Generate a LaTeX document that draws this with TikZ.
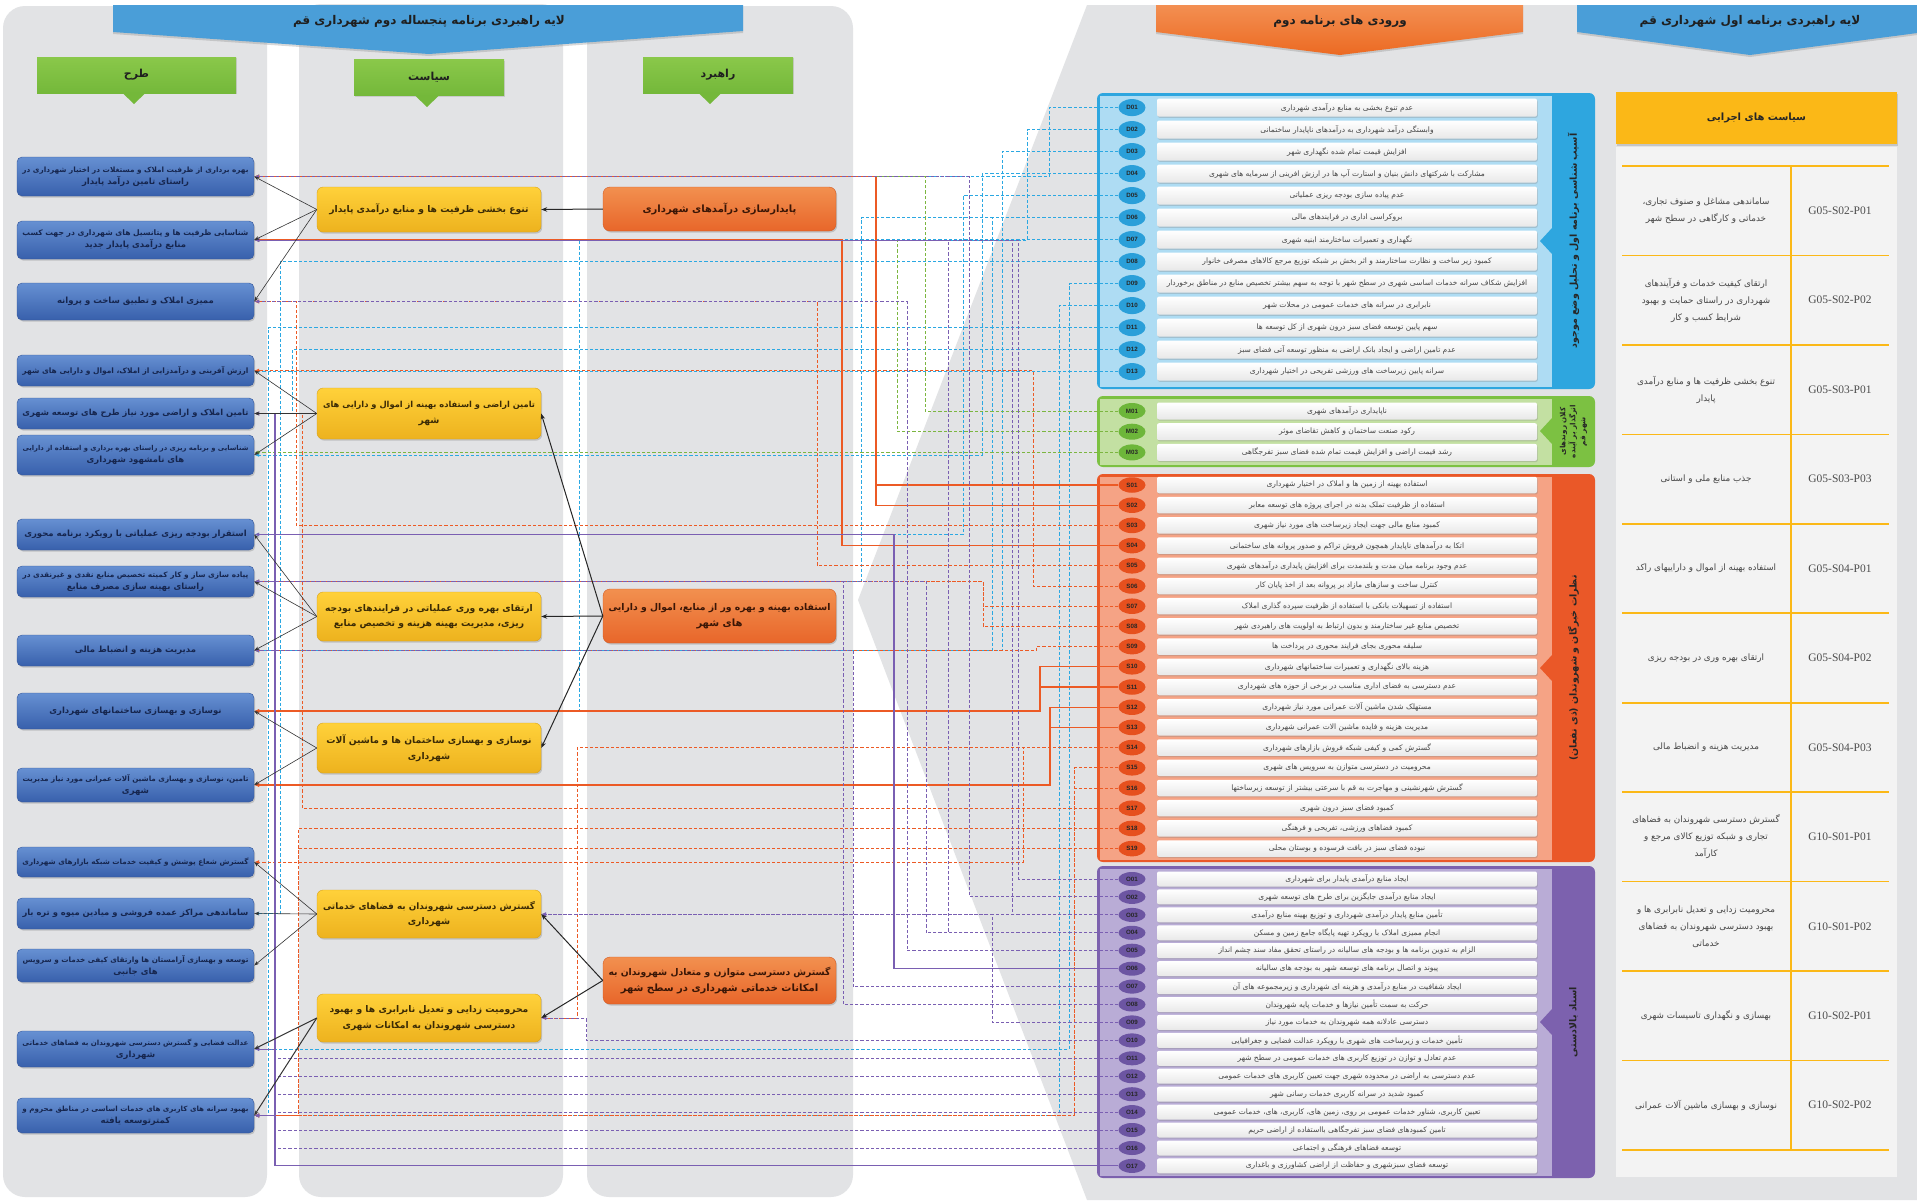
\documentclass[tikz,border=0pt]{standalone}
\usepackage{fontspec}
\usepackage{graphicx}
\setmainfont{Liberation Sans}
\newfontfamily\arabicfont[Script=Arabic]{DejaVu Sans}
\newfontfamily\codefont{Liberation Serif}
\TeXXeTstate=1
\usetikzlibrary{arrows.meta,shadows,shapes.geometric}
\pgfdeclarelayer{bg}
\pgfdeclarelayer{lines}
\pgfsetlayers{bg,lines,main}
\definecolor{colbg}{HTML}{E2E3E5}
\definecolor{bnB}{HTML}{4A9ED8}
\definecolor{bnO1}{HTML}{F38F52}
\definecolor{bnO2}{HTML}{EC6A22}
\definecolor{gL1}{HTML}{8AC84A}
\definecolor{gL2}{HTML}{74B83A}
\definecolor{tB1}{HTML}{6690D2}
\definecolor{tB2}{HTML}{3860AC}
\definecolor{tB3}{HTML}{34569A}
\definecolor{tTx}{HTML}{16264F}
\definecolor{pB1}{HTML}{FFD13A}
\definecolor{pB2}{HTML}{EDB21E}
\definecolor{pB3}{HTML}{D9A21A}
\definecolor{pTx}{HTML}{3A2A05}
\definecolor{rB1}{HTML}{F2904F}
\definecolor{rB2}{HTML}{E8662A}
\definecolor{rB3}{HTML}{D35A22}
\definecolor{rTx}{HTML}{3A1606}
\definecolor{dS}{HTML}{2EA6DF}
\definecolor{dI}{HTML}{AEDCF3}
\definecolor{dB}{HTML}{2A9FD9}
\definecolor{mS}{HTML}{7CC142}
\definecolor{mI}{HTML}{C3E0A2}
\definecolor{mB}{HTML}{6DB63A}
\definecolor{sS}{HTML}{EA5828}
\definecolor{sI}{HTML}{F5A385}
\definecolor{sB}{HTML}{E6501E}
\definecolor{oS}{HTML}{7C61AE}
\definecolor{oI}{HTML}{B9ACD6}
\definecolor{oB}{HTML}{6C55A2}
\definecolor{lD}{HTML}{2BA8E2}
\definecolor{lM}{HTML}{7CB640}
\definecolor{lS}{HTML}{EC5A25}
\definecolor{lO}{HTML}{7A5FB2}
\definecolor{yl}{HTML}{FBB817}
\definecolor{tbg}{HTML}{F3F3F3}
\newsavebox\fbx
\newcommand\fa[2]{\sbox\fbx{\arabicfont #2}\ifdim\wd\fbx>#1\relax\resizebox{#1}{!}{\usebox\fbx}\else\usebox\fbx\fi}
\newcommand\panel[5]{%
 \fill[#3,rounded corners=6pt] (1097,#1) rectangle (1595,#2);
 \fill[#4] (1100,{#1+2.5}) rectangle (1552,{#2-2.5});
 \fill[#3] (1552,{#5-13}) -- (1540,#5) -- (1552,{#5+13}) -- cycle;}
\newcommand\lrow[5]{\node[badge=#3,minimum height={#4-1pt}] (#1) at (1132,#2) {#1};
 \node[rowbar,minimum height=#4] (b#1) at (1347,#2) {\fa{372pt}{#5}};}
\newcommand\tnode[4]{\node[tbox,minimum height=#3] (#1) at (135.5,#2) {#4};}
\newcommand\cn[4]{\coordinate (ln) at (#3,0);\draw[#1] (#2.west) -- (#2.west -| ln) |- (#4.east);}
\newcommand\cdr[3]{\draw[#1] (#2.west) -- (#2.west -| #3.east);}
\tikzset{
 shd/.style={drop shadow={shadow xshift=1.2pt,shadow yshift=-1.6pt,opacity=.35}},
 tbox/.style={rounded corners=5pt,top color=tB1,bottom color=tB2,draw=tB3,line width=.4pt,minimum width=237pt,align=center,text=tTx,font=\bfseries\fontsize{8.5}{12}\selectfont,inner sep=1.5pt,shd},
 pbox/.style={rounded corners=6pt,top color=pB1,bottom color=pB2,draw=pB3,line width=.4pt,minimum width=224pt,align=center,text=pTx,font=\bfseries\fontsize{9.2}{15.5}\selectfont,inner sep=1.5pt,shd},
 rbox/.style={rounded corners=7pt,top color=rB1,bottom color=rB2,draw=rB3,line width=.4pt,minimum width=233pt,align=center,text=rTx,font=\bfseries\fontsize{10}{16.5}\selectfont,inner sep=1.5pt,shd},
 badge/.style={ellipse,fill=#1,minimum width=27pt,inner sep=0pt,font=\bfseries\fontsize{6.2}{7}\selectfont,text=black!85},
 rowbar/.style={rectangle,rounded corners=2pt,top color=white,bottom color=black!9,minimum width=380pt,inner sep=0pt,text=black!72,font=\fontsize{7.5}{8}\selectfont,drop shadow={shadow xshift=.8pt,shadow yshift=-1.2pt,opacity=.3}},
 striptext/.style={rotate=90,align=center,text=black!85,font=\bfseries\fontsize{9.5}{11}\selectfont},
 hdr/.style={align=center,text=black!88,font=\bfseries\fontsize{12}{14}\selectfont},
 glabel/.style={top color=gL1,bottom color=gL2,minimum width=150pt,minimum height=36pt,text=black!88,font=\bfseries\fontsize{11}{13}\selectfont,drop shadow={shadow xshift=1pt,shadow yshift=-1.2pt,opacity=.25}},
 tabtxt/.style={align=center,text=black!72,font=\fontsize{8.8}{17}\selectfont},
 codest/.style={text=black!70,font=\codefont\fontsize{11.5}{12}\selectfont},
 cD/.style={draw=lD,line width=1pt,dash pattern=on 3.2pt off 2pt,-{Latex[length=5pt,width=4pt]}},
 cM/.style={draw=lM,line width=1pt,dash pattern=on 3.2pt off 2pt,-{Latex[length=5pt,width=4pt]}},
 cS/.style={draw=lS,line width=1pt,dash pattern=on 3.2pt off 2pt,-{Latex[length=5pt,width=4pt]}},
 cSs/.style={draw=lS,line width=1.1pt,solid,-{Latex[length=5pt,width=4pt]}},
 cO/.style={draw=lO,line width=1pt,dash pattern=on 3.2pt off 2pt,-{Latex[length=5pt,width=4pt]}},
 cOs/.style={draw=lO,line width=1.1pt,solid,-{Latex[length=5pt,width=4pt]}},
 blk/.style={draw=black!80,line width=.6pt,-{Stealth[length=5pt,width=3.6pt]}},
 blkR/.style={draw=black!85,line width=1pt,-{Stealth[length=6pt,width=4.5pt]}},
}
\begin{document}
\begin{tikzpicture}[x=1pt,y=-1pt]
\useasboundingbox (0,0) rectangle (1917,1200);
\begin{pgfonlayer}{bg}
 \fill[white] (0,0) rectangle (1917,1200);
 \fill[colbg] (1087,5) -- (1917,5) -- (1917,1200) -- (1087,1200) -- (858,600) -- cycle;
 \fill[colbg,rounded corners=22pt] (3,6) rectangle (267,1197);
 \fill[colbg,rounded corners=22pt] (299,4) rectangle (563,1197);
 \fill[colbg,rounded corners=22pt] (587,6) rectangle (853,1197);
 \panel{93}{389}{dS}{dI}{241}
 \panel{396}{467}{mS}{mI}{431}
 \panel{474}{862}{sS}{sI}{668}
 \panel{866}{1178}{oS}{oI}{1022}
 \fill[tbg] (1616,147) rectangle (1897,1177);
\end{pgfonlayer}

% ---------- banners ----------
\path[fill=bnB,drop shadow={shadow xshift=0pt,shadow yshift=-2pt,opacity=.3}] (113,5) -- (743,5) -- (743,31) -- (429,54) -- (113,32) -- cycle;
\node[hdr] (hL) at (429,21) {\fa{300pt}{\beginR لایه راهبردی برنامه پنجساله دوم شهرداری قم\endR}};
\path[top color=bnO1,bottom color=bnO2,drop shadow={shadow xshift=0pt,shadow yshift=-2pt,opacity=.3}] (1156,5) -- (1523,5) -- (1523,32) -- (1340,55) -- (1156,32) -- cycle;
\node[hdr] (hO) at (1340,21) {\fa{200pt}{\beginR ورودی های برنامه دوم\endR}};
\path[fill=bnB,drop shadow={shadow xshift=0pt,shadow yshift=-2pt,opacity=.3}] (1577,5) -- (1925,5) -- (1925,32) -- (1750,55) -- (1577,32) -- cycle;
\node[hdr] (hR) at (1750,21) {\fa{260pt}{\beginR لایه راهبردی برنامه اول شهرداری قم\endR}};

\node[glabel,minimum width=199pt] (gT) at (136.5,75) {\fa{80pt}{\beginR طرح\endR}};
\fill[gL2] (122,92.5) -- (134,104) -- (146,92.5) -- cycle;
\node[glabel] (gP) at (429,77.5) {\fa{80pt}{\beginR سیاست\endR}};
\fill[gL2] (415,95.5) -- (427,107) -- (439,95.5) -- cycle;
\node[glabel] (gR) at (718,75) {\fa{80pt}{\beginR راهبرد\endR}};
\fill[gL2] (698,92.5) -- (710,104) -- (722,92.5) -- cycle;

% ---------- strategy (orange) ----------
\node[rbox,minimum height=44pt] (R1) at (719.5,209) {\fa{222pt}{\beginR پایدارسازی درآمدهای شهرداری\endR}};
\node[rbox,minimum height=54pt] (R2) at (719.5,616) {\fa{222pt}{\beginR استفاده بهینه و بهره ور از منابع، اموال و دارایی\endR}\\\fa{222pt}{\beginR های شهر\endR}};
\node[rbox,minimum height=47pt] (R3) at (719.5,980.5) {\fa{222pt}{\beginR گسترش دسترسی متوازن و متعادل شهروندان به\endR}\\\fa{222pt}{\beginR امکانات خدماتی شهرداری در سطح شهر\endR}};

% ---------- policy (yellow) ----------
\node[pbox,minimum height=45pt] (P1) at (429,209.5) {\fa{212pt}{\beginR تنوع بخشی ظرفیت ها و منابع درآمدی پایدار\endR}};
\node[pbox,minimum height=51pt] (P2) at (429,413.5) {\fa{212pt}{\beginR تامین اراضی و استفاده بهینه از اموال و دارایی های\endR}\\\fa{212pt}{\beginR شهر\endR}};
\node[pbox,minimum height=49pt] (P3) at (429,616.5) {\fa{212pt}{\beginR ارتقای بهره وری عملیاتی در فرایندهای بودجه\endR}\\\fa{212pt}{\beginR ریزی، مدیریت بهینه هزینه و تخصیص منابع\endR}};
\node[pbox,minimum height=50pt] (P4) at (429,748) {\fa{212pt}{\beginR نوسازی و بهسازی ساختمان ها و ماشین آلات\endR}\\\fa{212pt}{\beginR شهرداری\endR}};
\node[pbox,minimum height=48pt] (P5) at (429,914) {\fa{212pt}{\beginR گسترش دسترسی شهروندان به فضاهای خدماتی\endR}\\\fa{212pt}{\beginR شهرداری\endR}};
\node[pbox,minimum height=48pt] (P6) at (429,1018) {\fa{212pt}{\beginR محرومیت زدایی و تعدیل نابرابری ها و بهبود\endR}\\\fa{212pt}{\beginR دسترسی شهروندان به امکانات شهری\endR}};

% ---------- plans (blue) ----------
\tnode{T1}{176.5}{39pt}{\fa{226pt}{\beginR بهره برداری از ظرفیت املاک و مستغلات در اختیار شهرداری در\endR}\\\fa{226pt}{\beginR راستای تامین درآمد پایدار\endR}}
\tnode{T2}{240}{38pt}{\fa{226pt}{\beginR شناسایی ظرفیت ها و پتانسیل های شهرداری در جهت کسب\endR}\\\fa{226pt}{\beginR منابع درآمدی پایدار جدید\endR}}
\tnode{T3}{301.5}{37pt}{\fa{226pt}{\beginR ممیزی املاک و تطبیق ساخت و پروانه\endR}}
\tnode{T4}{370.5}{31pt}{\fa{226pt}{\beginR ارزش آفرینی و درآمدزایی از املاک، اموال و دارایی های شهر\endR}}
\tnode{T5}{413.5}{31pt}{\fa{226pt}{\beginR تامین املاک و اراضی مورد نیاز طرح های توسعه شهری\endR}}
\tnode{T6}{455}{40pt}{\fa{226pt}{\beginR شناسایی و برنامه ریزی در راستای بهره برداری و استفاده از دارایی\endR}\\\fa{226pt}{\beginR های نامشهود شهرداری\endR}}
\tnode{T7}{534.5}{31pt}{\fa{226pt}{\beginR استقرار بودجه ریزی عملیاتی با رویکرد برنامه محوری\endR}}
\tnode{T8}{581.5}{31pt}{\fa{226pt}{\beginR پیاده سازی ساز و کار کمیته تخصیص منابع نقدی و غیرنقدی در\endR}\\\fa{226pt}{\beginR راستای بهینه سازی مصرف منابع\endR}}
\tnode{T9}{650.5}{31pt}{\fa{226pt}{\beginR مدیریت هزینه و انضباط مالی\endR}}
\tnode{T10}{711}{36pt}{\fa{226pt}{\beginR نوسازی و بهسازی ساختمانهای شهرداری\endR}}
\tnode{T11}{785}{34pt}{\fa{226pt}{\beginR تامین، نوسازی و بهسازی ماشین آلات عمرانی مورد نیاز مدیریت\endR}\\\fa{226pt}{\beginR شهری\endR}}
\tnode{T12}{862}{30pt}{\fa{226pt}{\beginR گسترش شعاع پوشش و کیفیت خدمات شبکه بازارهای شهرداری\endR}}
\tnode{T13}{913.5}{31pt}{\fa{226pt}{\beginR ساماندهی مراکز عمده فروشی و میادین میوه و تره بار\endR}}
\tnode{T14}{965.5}{33pt}{\fa{226pt}{\beginR توسعه و بهسازی آرامستان ها وارتقای کیفی خدمات و سرویس\endR}\\\fa{226pt}{\beginR های جانبی\endR}}
\tnode{T15}{1049}{36pt}{\fa{226pt}{\beginR عدالت فضایی و گسترش دسترسی شهروندان به فضاهای خدماتی\endR}\\\fa{226pt}{\beginR شهرداری\endR}}
\tnode{T16}{1115.5}{35pt}{\fa{226pt}{\beginR بهبود سرانه های کاربری های خدمات اساسی در مناطق محروم و\endR}\\\fa{226pt}{\beginR کمترتوسعه یافته\endR}}

% ---------- input lists ----------
\node[striptext] (sD) at (1573.5,241) {\fa{280pt}{\beginR آسیب شناسی برنامه اول و تحلیل وضع موجود\endR}};
\node[striptext,font=\bfseries\fontsize{7.2}{10}\selectfont] (sM) at (1573.5,431.5) {\fa{66pt}{\beginR کلان روندهای\endR}\\\fa{66pt}{\beginR اثرگذار بر آینده\endR}\\\fa{66pt}{\beginR شهر قم\endR}};
\node[striptext] (sS) at (1573.5,668) {\fa{370pt}{\beginR نظرات خبرگان و شهروندان (ذی نفعان)\endR}};
\node[striptext] (sO) at (1573.5,1022) {\fa{290pt}{\beginR اسناد بالادستی\endR}};

\lrow{D01}{107.6}{dB}{18pt}{\beginR عدم تنوع بخشی به منابع درآمدی شهرداری\endR}
\lrow{D02}{129.6}{dB}{18pt}{\beginR وابستگی درآمد شهرداری به درآمدهای ناپایدار ساختمانی\endR}
\lrow{D03}{151.6}{dB}{18pt}{\beginR افزایش قیمت تمام شده نگهداری شهر\endR}
\lrow{D04}{173.6}{dB}{18pt}{\beginR مشارکت با شرکتهای دانش بنیان و استارت آپ ها در ارزش افرینی از سرمایه های شهری\endR}
\lrow{D05}{195.6}{dB}{18pt}{\beginR عدم پیاده سازی بودجه ریزی عملیاتی\endR}
\lrow{D06}{217.6}{dB}{18pt}{\beginR بروکراسی اداری در فرایندهای مالی\endR}
\lrow{D07}{239.6}{dB}{18pt}{\beginR نگهداری و تعمیرات ساختارمند ابنیه شهری\endR}
\lrow{D08}{261.6}{dB}{18pt}{\beginR کمبود زیر ساخت و نظارت ساختارمند و اثر بخش بر شبکه توزیع مرجع کالاهای مصرفی خانوار\endR}
\lrow{D09}{283.6}{dB}{18pt}{\beginR افزایش شکاف سرانه خدمات اساسی شهری در سطح شهر با توجه به سهم بیشتر تخصیص منابع در مناطق برخوردار\endR}
\lrow{D10}{305.6}{dB}{18pt}{\beginR نابرابری در سرانه های خدمات عمومی در محلات شهر\endR}
\lrow{D11}{327.6}{dB}{18pt}{\beginR سهم پایین توسعه فضای سبز درون شهری از کل توسعه ها\endR}
\lrow{D12}{349.6}{dB}{18pt}{\beginR عدم تامین اراضی و ایجاد بانک اراضی به منظور توسعه آتی فضای سبز\endR}
\lrow{D13}{371.6}{dB}{18pt}{\beginR سرانه پایین زیرساخت های ورزشی تفریحی در اختیار شهرداری\endR}

\lrow{M01}{411}{mB}{17pt}{\beginR ناپایداری درآمدهای شهری\endR}
\lrow{M02}{431.7}{mB}{17pt}{\beginR رکود صنعت ساختمان و کاهش تقاضای موثر\endR}
\lrow{M03}{452.4}{mB}{17pt}{\beginR رشد قیمت اراضی و افزایش قیمت تمام شده فضای سبز تفرجگاهی\endR}

\lrow{S01}{485}{sB}{16.5pt}{\beginR استفاده بهینه از زمین ها و املاک در اختیار شهرداری\endR}
\lrow{S02}{505.2}{sB}{16.5pt}{\beginR استفاده از ظرفیت تملک بدنه در اجرای پروژه های توسعه معابر\endR}
\lrow{S03}{525.4}{sB}{16.5pt}{\beginR کمبود منابع مالی جهت ایجاد زیرساخت های مورد نیاز شهری\endR}
\lrow{S04}{545.6}{sB}{16.5pt}{\beginR اتکا به درآمدهای ناپایدار همچون فروش تراکم و صدور پروانه های ساختمانی\endR}
\lrow{S05}{565.8}{sB}{16.5pt}{\beginR عدم وجود برنامه میان مدت و بلندمدت برای افزایش پایداری درآمدهای شهری\endR}
\lrow{S06}{586}{sB}{16.5pt}{\beginR کنترل ساخت و سازهای مازاد بر پروانه بعد از اخذ پایان کار\endR}
\lrow{S07}{606.2}{sB}{16.5pt}{\beginR استفاده از تسهیلات بانکی با استفاده از ظرفیت سپرده گذاری املاک\endR}
\lrow{S08}{626.4}{sB}{16.5pt}{\beginR تخصیص منابع غیر ساختارمند و بدون ارتباط به اولویت های راهبردی شهر\endR}
\lrow{S09}{646.6}{sB}{16.5pt}{\beginR سلیقه محوری بجای فرایند محوری در پرداخت ها\endR}
\lrow{S10}{666.8}{sB}{16.5pt}{\beginR هزینه بالای نگهداری و تعمیرات ساختمانهای شهرداری\endR}
\lrow{S11}{687}{sB}{16.5pt}{\beginR عدم دسترسی به فضای اداری مناسب در برخی از حوزه های شهرداری\endR}
\lrow{S12}{707.2}{sB}{16.5pt}{\beginR مستهلک شدن ماشین آلات عمرانی مورد نیاز شهرداری\endR}
\lrow{S13}{727.4}{sB}{16.5pt}{\beginR مدیریت هزینه و فایده ماشین الات عمرانی شهرداری\endR}
\lrow{S14}{747.6}{sB}{16.5pt}{\beginR گسترش کمی و کیفی شبکه فروش بازارهای شهرداری\endR}
\lrow{S15}{767.8}{sB}{16.5pt}{\beginR محرومیت در دسترسی متوازن به سرویس های شهری\endR}
\lrow{S16}{788}{sB}{16.5pt}{\beginR گسترش شهرنشینی و مهاجرت به قم با سرعتی بیشتر از توسعه زیرساختها\endR}
\lrow{S17}{808.2}{sB}{16.5pt}{\beginR کمبود فضای سبز درون شهری\endR}
\lrow{S18}{828.4}{sB}{16.5pt}{\beginR کمبود فضاهای ورزشی، تفریحی و فرهنگی\endR}
\lrow{S19}{848.6}{sB}{16.5pt}{\beginR نبوده فضای سبز در بافت فرسوده و بوستان محلی\endR}

\lrow{O01}{879}{oB}{15pt}{\beginR ایجاد منابع درآمدی پایدار برای شهرداری\endR}
\lrow{O02}{896.9}{oB}{15pt}{\beginR ایجاد منابع درآمدی جایگزین برای طرح های توسعه شهری\endR}
\lrow{O03}{914.9}{oB}{15pt}{\beginR تأمین منابع پایدار درآمدی شهرداری و توزیع بهینه منابع درآمدی\endR}
\lrow{O04}{932.8}{oB}{15pt}{\beginR انجام ممیزی املاک با رویکرد تهیه پایگاه جامع زمین و مسکن\endR}
\lrow{O05}{950.7}{oB}{15pt}{\beginR الزام به تدوین برنامه ها و بودجه های سالیانه در راستای تحقق مفاد سند چشم انداز\endR}
\lrow{O06}{968.7}{oB}{15pt}{\beginR پیوند و اتصال برنامه های توسعه شهر به بودجه های سالیانه\endR}
\lrow{O07}{986.6}{oB}{15pt}{\beginR ایجاد شفافیت در منابع درآمدی و هزینه ای شهرداری و زیرمجموعه های آن\endR}
\lrow{O08}{1004.5}{oB}{15pt}{\beginR حرکت به سمت تأمین نیازها و خدمات پایه شهروندان\endR}
\lrow{O09}{1022.4}{oB}{15pt}{\beginR دسترسی عادلانه همه شهروندان به خدمات مورد نیاز\endR}
\lrow{O10}{1040.4}{oB}{15pt}{\beginR تأمین خدمات و زیرساخت های شهری با رویکرد عدالت فضایی و جغرافیایی\endR}
\lrow{O11}{1058.3}{oB}{15pt}{\beginR عدم تعادل و توازن در توزیع کاربری های خدمات عمومی در سطح شهر\endR}
\lrow{O12}{1076.2}{oB}{15pt}{\beginR عدم دسترسی به اراضی در محدوده شهری جهت تعیین کاربری های خدمات عمومی\endR}
\lrow{O13}{1094.2}{oB}{15pt}{\beginR کمبود شدید در سرانه کاربری خدمات رسانی شهر\endR}
\lrow{O14}{1112.1}{oB}{15pt}{\beginR تعیین کاربری، شناور خدمات عمومی بر روی، زمین های، کاربری، های، خدمات عمومی\endR}
\lrow{O15}{1130}{oB}{15pt}{\beginR تامین کمبودهای فضای سبز تفرجگاهی بااستفاده از اراضی حریم\endR}
\lrow{O16}{1148}{oB}{15pt}{\beginR توسعه فضاهای فرهنگی و اجتماعی\endR}
\lrow{O17}{1165.9}{oB}{15pt}{\beginR توسعه فضای سبزشهری و حفاظت از اراضی کشاورزی و باغداری\endR}

% ---------- executive policies table ----------
\node[fill=yl,minimum width=281pt,minimum height=52pt,font=\bfseries\fontsize{10}{12}\selectfont,text=black!85,drop shadow={shadow xshift=1pt,shadow yshift=-1.5pt,opacity=.3}] (yH) at (1756.5,118) {\fa{200pt}{\beginR سیاست های اجرایی\endR}};
\foreach \k in {0,...,11} \draw[yl,line width=1.6pt] (1622,{166+89.45*\k}) -- (1889,{166+89.45*\k});
\draw[yl,line width=2.4pt] (1791,166) -- (1791,1150);
\node[tabtxt] (g1) at (1706,210.7) {\fa{160pt}{\beginR ساماندهی مشاغل و صنوف تجاری،\endR}\\\fa{160pt}{\beginR خدماتی و کارگاهی در سطح شهر\endR}};
\node[tabtxt] (g2) at (1706,300.2) {\fa{160pt}{\beginR ارتقای کیفیت خدمات و فرآیندهای\endR}\\\fa{160pt}{\beginR شهرداری در راستای حمایت و بهبود\endR}\\\fa{160pt}{\beginR شرایط کسب و کار\endR}};
\node[tabtxt] (g3) at (1706,389.6) {\fa{160pt}{\beginR تنوع بخشی ظرفیت ها و منابع درآمدی\endR}\\\fa{160pt}{\beginR پایدار\endR}};
\node[tabtxt] (g4) at (1706,479.1) {\fa{160pt}{\beginR جذب منابع ملی و استانی\endR}};
\node[tabtxt] (g5) at (1706,568.5) {\fa{160pt}{\beginR استفاده بهینه از اموال و داراییهای راکد\endR}};
\node[tabtxt] (g6) at (1706,658.0) {\fa{160pt}{\beginR ارتقای بهره وری در بودجه ریزی\endR}};
\node[tabtxt] (g7) at (1706,747.4) {\fa{160pt}{\beginR مدیریت هزینه و انضباط مالی\endR}};
\node[tabtxt] (g8) at (1706,836.9) {\fa{160pt}{\beginR گسترش دسترسی شهروندان به فضاهای\endR}\\\fa{160pt}{\beginR تجاری و شبکه توزیع کالای مرجع و\endR}\\\fa{160pt}{\beginR کارآمد\endR}};
\node[tabtxt] (g9) at (1706,926.3) {\fa{160pt}{\beginR محرومیت زدایی و تعدیل نابرابری ها و\endR}\\\fa{160pt}{\beginR بهبود دسترسی شهروندان به فضاهای\endR}\\\fa{160pt}{\beginR خدماتی\endR}};
\node[tabtxt] (g10) at (1706,1015.8) {\fa{160pt}{\beginR بهسازی و نگهداری تاسیسات شهری\endR}};
\node[tabtxt] (g11) at (1706,1105.2) {\fa{160pt}{\beginR نوسازی و بهسازی ماشین آلات عمرانی\endR}};
\node[codest] (c1) at (1840,210.7) {G05-S02-P01};
\node[codest] (c2) at (1840,300.2) {G05-S02-P02};
\node[codest] (c3) at (1840,389.6) {G05-S03-P01};
\node[codest] (c4) at (1840,479.1) {G05-S03-P03};
\node[codest] (c5) at (1840,568.5) {G05-S04-P01};
\node[codest] (c6) at (1840,658.0) {G05-S04-P02};
\node[codest] (c7) at (1840,747.4) {G05-S04-P03};
\node[codest] (c8) at (1840,836.9) {G10-S01-P01};
\node[codest] (c9) at (1840,926.3) {G10-S01-P02};
\node[codest] (c10) at (1840,1015.8) {G10-S02-P01};
\node[codest] (c11) at (1840,1105.2) {G10-S02-P02};

% ---------- black hierarchy arrows ----------
\draw[blkR] (R1.west) -- (P1.east);
\draw[blkR] (R2.west) -- (P2.east);
\draw[blkR] (R2.west) -- (P3.east);
\draw[blkR] (R2.west) -- (P4.east);
\draw[blkR] (R3.west) -- (P5.east);
\draw[blkR] (R3.west) -- (P6.east);
\foreach \a/\b in {P1/T1,P1/T2,P1/T3,P2/T4,P2/T5,P2/T6,P3/T7,P3/T8,P3/T9,P4/T10,P4/T11,P5/T12,P5/T13,P5/T14}
  \draw[blk] (\a.west) -- (\b.east);
\draw[blk,line width=1pt] (P6.west) -- (T15.east);
\draw[blk,line width=1pt] (P6.west) -- (T16.east);

% ---------- coloured input connectors ----------
\begin{pgfonlayer}{lines}
\cn{cD}{D01}{1049}{T1}
\cn{cD}{D02}{1027}{T2}
\cn{cD}{D03}{1002}{T9}
\cn{cD}{D04}{982}{T6}
\cn{cD}{D05}{963}{T7}
\cn{cD}{D06}{861}{T8}
\cn{cD}{D06}{992}{T9}
\cn{cD}{D07}{579}{T10}
\cn{cD}{D08}{280}{T13}
\cn{cD}{D09}{1069}{T15}
\cn{cD}{D10}{1059}{T16}
\cn{cD}{D11}{268}{T16}
\cn{cD}{D12}{292}{T5}
\cdr{cD}{D13}{T4}
\cn{cM}{M01}{925}{T1}
\cn{cM}{M02}{897}{T2}
\cdr{cM}{M03}{T6}
\cn{cSs}{S01}{876}{T1}
\cn{cSs}{S02}{876}{T1}
\cn{cS}{S03}{296}{T3}
\cn{cSs}{S04}{842}{T2}
\cn{cS}{S05}{817}{T3}
\cn{cS}{S06}{1033}{T4}
\cn{cS}{S07}{983}{T8}
\cn{cS}{S08}{983}{T8}
\cn{cS}{S09}{1036}{T9}
\cn{cSs}{S10}{1040}{T10}
\cn{cSs}{S11}{1040}{T10}
\cn{cSs}{S12}{1050}{T11}
\cn{cSs}{S13}{1050}{T11}
\cn{cS}{S14}{1023}{T12}
\cn{cS}{S14}{577}{P6}
\cn{cS}{S15}{1074}{T16}
\cn{cS}{S16}{1074}{T16}
\cn{cS}{S17}{302}{T5}
\cn{cS}{S18}{298}{T16}
\cn{cS}{S19}{298}{T16}
\cn{cO}{O01}{1018}{T2}
\cn{cO}{O02}{969}{T1}
\cn{cO}{O03}{1012}{T2}
\cdr{cO}{O03}{P5}
\cn{cO}{O04}{948}{T2}
\cn{cO}{O04}{926}{T8}
\cn{cO}{O05}{907}{T3}
\cn{cOs}{O06}{894}{T7}
\cn{cO}{O07}{853}{T9}
\cn{cO}{O08}{843}{T8}
\cn{cO}{O09}{992}{P5}
\cn{cO}{O10}{586}{P6}
\cn{cO}{O11}{275}{T15}
\cn{cO}{O12}{275}{T16}
\cn{cO}{O13}{275}{T16}
\cn{cO}{O14}{275}{T15}
\cn{cO}{O15}{275}{T5}
\cn{cO}{O16}{275}{T16}
\cn{cOs}{O17}{275}{T5}
\end{pgfonlayer}
\end{tikzpicture}
\end{document}
